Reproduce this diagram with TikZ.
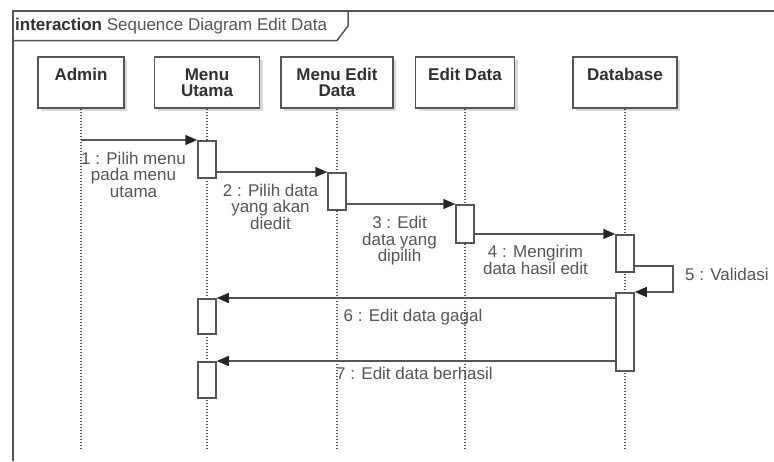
\documentclass[tikz,border=0pt]{standalone}
\usepackage{fontspec}
\setmainfont{Liberation Sans}
\usetikzlibrary{arrows.meta,shadows}
\definecolor{linec}{HTML}{555555}
\definecolor{headtxt}{HTML}{303030}
\definecolor{msgtxt}{HTML}{555555}
\begin{document}
\begin{tikzpicture}[x=1pt,y=-1pt,
  head/.style={draw=linec,line width=1.5pt,fill=white,minimum width=#1,
    minimum height=51pt,inner sep=0pt,
    drop shadow={shadow xshift=3pt,shadow yshift=-3pt,opacity=0.15,fill=black}},
  headtext/.style={font=\bfseries\fontsize{17}{16.5}\selectfont,text=headtxt,
    align=center,inner sep=0pt,anchor=base},
  lifeline/.style={draw=linec,line width=1.5pt,dash pattern=on 1.5pt off 1.5pt},
  act/.style={draw=linec,line width=1.5pt,fill=white,minimum width=18pt,
    minimum height=#1,inner sep=0pt,anchor=north},
  msg/.style={draw=linec,line width=1.5pt,
    -{Triangle[length=12pt,width=10pt,color=black!85]}},
  lbl/.style={font=\fontsize{17}{16.7}\selectfont,text=msgtxt,align=center,
    inner sep=0pt,anchor=base}]

\useasboundingbox (0,0) rectangle (774,461);
\fill[white] (0,0) rectangle (774,461);

% interaction frame and its name tab
\draw[linec,line width=2pt] (774,11) -- (13,11) -- (13,461);
\draw[linec,line width=1.5pt] (13,40.5) -- (337,40.5) -- (348,26) -- (348,11);
\node[anchor=base west,inner sep=0pt,font=\fontsize{17}{17}\selectfont,text=msgtxt]
  (title) at (15,30) {\textcolor{headtxt}{\bfseries interaction} Sequence Diagram Edit Data};

% lifeline heads
\node[head=86pt]  (admin) at (81,82.5)  {};
\node[head=105pt] (utama) at (207,82.5) {};
\node[head=112pt] (medit) at (337,82.5) {};
\node[head=99pt]  (edit)  at (465,82.5) {};
\node[head=104pt] (db)    at (625,82.5) {};

% head names (anchor base = baseline of the last line)
\node[headtext] (tadmin) at (81,80)  {Admin};
\node[headtext] (tutama) at (207,96.5) {Menu\\Utama};
\node[headtext] (tmedit) at (337,96.5) {Menu Edit\\Data};
\node[headtext] (tedit)  at (465,80) {Edit Data};
\node[headtext] (tdb)    at (625,80) {Database};

% lifelines
\coordinate (adminEnd) at (81,450);
\coordinate (utamaEnd) at (207,450);
\coordinate (meditEnd) at (337,450);
\coordinate (editEnd)  at (465,450);
\coordinate (dbEnd)    at (625,450);
\draw[lifeline] (admin.south) -- (adminEnd);
\draw[lifeline] (utama.south) -- (utamaEnd);
\draw[lifeline] (medit.south) -- (meditEnd);
\draw[lifeline] (edit.south)  -- (editEnd);
\draw[lifeline] (db.south)    -- (dbEnd);

% activation bars
\node[act=37pt] (act1) at (207,140) {};
\node[act=37pt] (act2) at (337,172) {};
\node[act=38pt] (act3) at (465,204) {};
\node[act=37pt] (act4) at (625,234) {};
\node[act=78pt] (act5) at (625,292) {};
\node[act=35pt] (act6) at (207,298) {};
\node[act=36pt] (act7) at (207,361) {};

% messages
\draw[msg] (admin.south |- act1.north) -- (act1.north west);
\draw[msg] (act1.east |- act2.north) -- (act2.north west);
\draw[msg] (act2.east |- act3.north) -- (act3.north west);
\draw[msg] (act3.east |- act4.north) -- (act4.north west);
\coordinate (selfA) at (673,266);
\draw[msg] (act4.east |- selfA) -- (selfA) -- (selfA |- act5.north) -- (act5.north east);
\draw[msg] (act5.west |- act6.north) -- (act6.north east);
\draw[msg] (act5.west |- act7.north) -- (act7.north east);

% message labels (anchor base = baseline of the last line)
\node[lbl] (l1) at (133.5,197.5) {1 : Pilih menu\\pada menu\\utama};
\node[lbl] (l2) at (270.5,229.4) {2 : Pilih data\\yang akan\\diedit};
\node[lbl] (l3) at (399.5,261.7) {3 : Edit\\data yang\\dipilih};
\node[lbl] (l4) at (535.5,274) {4 : Mengirim\\data hasil edit};
\node[lbl,anchor=base west] (l5) at (685,280) {5 : Validasi};
\node[lbl] (l6) at (413,321.7) {6 : Edit data gagal};
\node[lbl] (l7) at (414.5,379) {7 : Edit data berhasil};
\end{tikzpicture}
\end{document}
